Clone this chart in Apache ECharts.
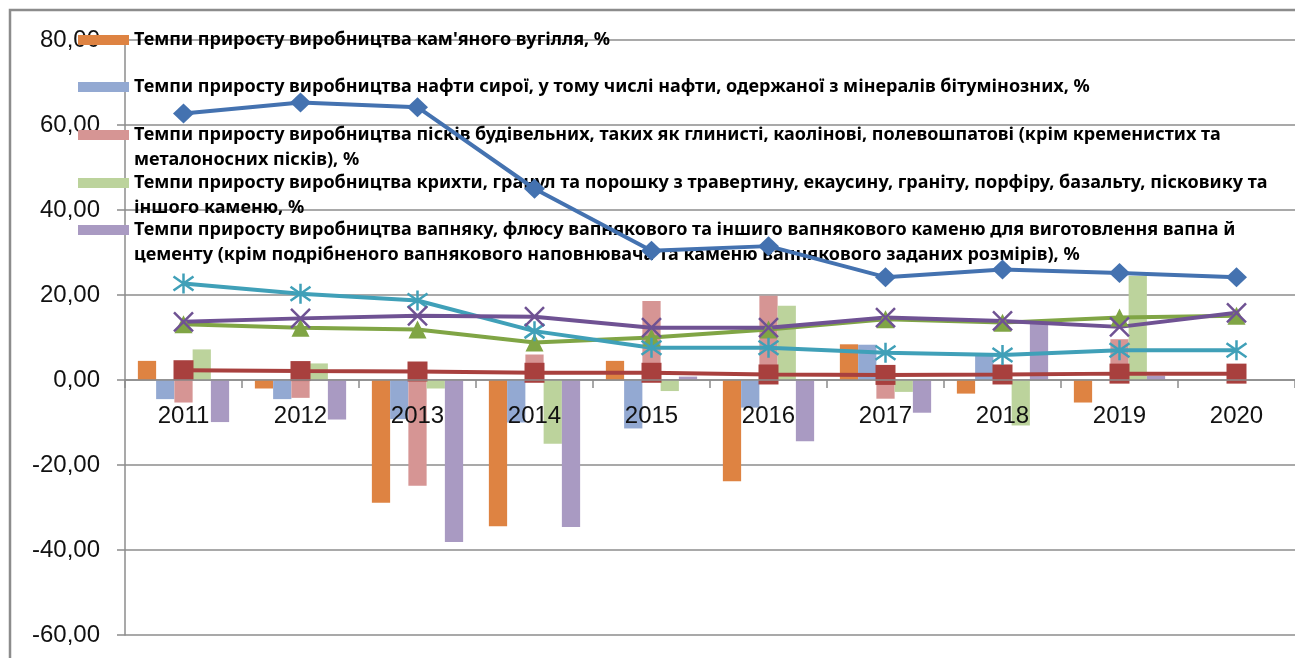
<!DOCTYPE html>
<html>
<head>
<meta charset="utf-8">
<script src="https://cdn.jsdelivr.net/npm/echarts@6/dist/echarts.min.js"></script>
<style>
  html, body { margin: 0; padding: 0; background: #fff; }
  #container { width: 1295px; height: 658px; }
</style>
</head>
<body>
<div id="container"></div>
<script>
var years = ['2011', '2012', '2013', '2014', '2015', '2016', '2017', '2018', '2019', '2020'];

// bars: growth rates, %
var barNames = [
  "Темпи приросту виробництва кам'яного вугілля, %",
  'Темпи приросту виробництва нафти сирої, у тому числі нафти, одержаної з мінералів бітумінозних, %',
  'Темпи приросту виробництва пісків будівельних, таких як глинисті, каолінові, полевошпатові (крім кременистих та\nметалоносних пісків), %',
  'Темпи приросту виробництва крихти, гранул та порошку з травертину, екаусину, граніту, порфіру, базальту, пісковику та\nіншого каменю, %',
  'Темпи приросту виробництва вапняку, флюсу вапнякового та іншиго вапнякового каменю для виготовлення вапна й\nцементу (крім подрібненого вапнякового наповнювача та каменю вапнякового заданих розмірів), %'
];
var coal = [4.5, -2.0, -28.9, -34.4, 4.5, -23.8, 8.4, -3.2, -5.3, null];
var oil = [-4.5, -4.5, -9.2, -10.0, -11.4, -6.5, 8.3, 5.8, 0.0, null];
var sand = [-5.3, -4.2, -24.9, 6.0, 18.6, 19.8, -4.4, 0.5, 9.6, null];
var crumb = [7.2, 3.9, -2.0, -15.0, -2.6, 17.5, -2.8, -10.7, 24.5, null];
var lime = [-9.9, -9.3, -38.1, -34.6, 0.8, -14.4, -7.7, 13.3, 1.0, null];

// lines
var lineBlue = [62.7, 65.3, 64.2, 45.0, 30.4, 31.5, 24.2, 26.0, 25.2, 24.2];
var lineRed = [2.3, 2.1, 2.0, 1.7, 1.7, 1.3, 1.2, 1.3, 1.5, 1.5];
var lineGreen = [13.1, 12.3, 11.9, 8.8, 10.0, 11.9, 14.3, 13.5, 14.7, 15.1];
var lineCyan = [22.7, 20.3, 18.7, 11.5, 7.6, 7.6, 6.4, 5.9, 7.0, 7.0];
var linePurple = [13.7, 14.5, 15.1, 14.9, 12.3, 12.3, 14.7, 13.9, 12.5, 15.8];

var barData = [coal, oil, sand, crumb, lime];
var barColors = ['#DE8342', '#93A9D2', '#D69594', '#BCD39C', '#A99AC2'];
// first text line of each legend entry sits at this y
var legendLineY = [40, 87, 135, 183, 230];

var dom = document.getElementById('container');
var myChart = echarts.init(dom);

var series = barData.map(function (d, i) {
  return {
    name: barNames[i],
    type: 'bar',
    data: d,
    barGap: '0%',
    barCategoryGap: '22%',
    itemStyle: { color: barColors[i] }
  };
});

function lineSeries(name, data, color, symbol, size, stroked) {
  return {
    name: name,
    type: 'line',
    data: data,
    symbol: symbol,
    symbolSize: size,
    showAllSymbol: true,
    lineStyle: { color: color, width: 4 },
    itemStyle: stroked
      ? { color: color, borderColor: color, borderWidth: 2.5 }
      : { color: color, borderWidth: 0 },
    z: 3
  };
}

series.push(lineSeries('Ряд 6', lineBlue, '#4472B0', 'diamond', [21, 20], false));
series.push(lineSeries('Ряд 7', lineRed, '#A8403E', 'rect', 20, false));
series.push(lineSeries('Ряд 8', lineGreen, '#80A545', 'triangle', 18, false));
series.push(lineSeries('Ряд 9', lineCyan, '#40A0B8', 'path://M10,0 L10,20 M1,3 L19,17 M1,17 L19,3', 20, true));
series.push(lineSeries('Ряд 10', linePurple, '#6F5293', 'path://M0,0 L20,20 M0,20 L20,0', 19, true));

// one legend per entry so every swatch sits on the first text line
var legends = barNames.map(function (n, i) {
  var twoLine = n.indexOf('\n') >= 0;
  return {
    data: [n],
    orient: 'vertical',
    left: 78,
    top: legendLineY[i] - 12.5,
    padding: 0,
    itemWidth: 51,
    itemHeight: twoLine ? 50 : 10,
    // swatch drawn in the top part of a 50px tall box
    icon: twoLine ? 'path://M0,7.5 L51,7.5 L51,17.5 L0,17.5 Z M0,0 L0,0 M0,50 L0,50' : 'rect',
    symbolKeepAspect: false,
    z: 1,
    selectedMode: false,
    textStyle: {
      fontFamily: 'Noto Sans',
      fontWeight: 'bold',
      fontSize: 18,
      color: '#000',
      lineHeight: 25
    }
  };
});

option = {
  animation: false,
  backgroundColor: '#fff',
  legend: legends,
  grid: { left: 125, right: 0, top: 40, bottom: 23, containLabel: false, outerBoundsMode: 'none' },
  graphic: [{
    type: 'rect',
    shape: { x: 10, y: 10, width: 1400, height: 800 },
    style: { fill: 'none', stroke: '#8c8c8c', lineWidth: 2.5 },
    silent: true
  }],
  xAxis: {
    type: 'category',
    data: years,
    position: 'bottom',
    offset: -255,
    z: 5,
    axisLine: { onZero: true, lineStyle: { color: '#8c8c8c', width: 1.5 } },
    axisTick: { show: true, length: 8, lineStyle: { color: '#8c8c8c', width: 1.5 } },
    axisLabel: { fontFamily: 'Liberation Sans', fontSize: 24, color: '#111', margin: 24 }
  },
  yAxis: {
    type: 'value',
    min: -60,
    max: 80,
    interval: 20,
    axisLine: { show: true, lineStyle: { color: '#8c8c8c', width: 1.5 } },
    axisTick: { show: true, length: 8, lineStyle: { color: '#8c8c8c', width: 1.5 } },
    splitLine: { lineStyle: { color: '#8c8c8c', width: 1.5 } },
    axisLabel: {
      fontFamily: 'Liberation Sans',
      fontSize: 24,
      color: '#111',
      margin: 25,
      formatter: function (v) { return v.toFixed(2).replace('.', ','); }
    }
  },
  series: series
};

if (option && typeof option === 'object') {
  myChart.setOption(option, true);
}
</script>
</body>
</html>
